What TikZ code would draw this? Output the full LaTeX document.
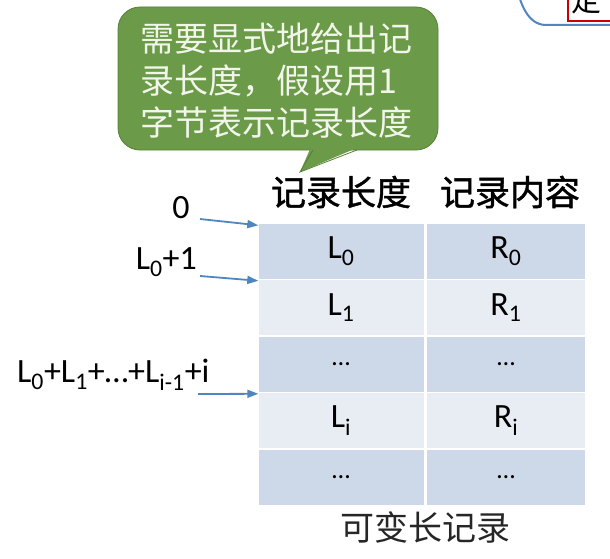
\documentclass[tikz,border=0pt]{standalone}
\usepackage{fontspec}
\setmainfont{Carlito}
\newfontfamily\zhfont{Noto Sans CJK SC}
\newfontfamily\zhhead[FakeBold=1.2]{Noto Sans CJK SC}
\usepackage{tikz}
\usetikzlibrary{arrows.meta,positioning}

\definecolor{rowdark}{HTML}{CDD8E8}
\definecolor{rowlight}{HTML}{E8EDF4}
\definecolor{tipgreen}{HTML}{6B9A48}
\definecolor{tipedge}{HTML}{55803A}
\definecolor{tiptext}{HTML}{F2F6EA}
\definecolor{ptrblue}{HTML}{4F86C0}

\newcommand{\celldots}{{\fontsize{26}{30}\selectfont\ldots}}

\begin{document}
\begin{tikzpicture}[
    x=1pt, y=-1pt,
    cell/.style={rectangle, minimum height=55pt, inner sep=0pt, text centered,
                 font=\fontsize{34}{38}\selectfont},
    head/.style={font=\zhhead\fontsize{35}{40}\selectfont, inner sep=0pt},
    addr/.style={font=\fontsize{34}{38}\selectfont, inner sep=0pt},
    ptr/.style={-{Triangle[length=11pt,width=8pt]}, ptrblue, line width=1.8pt}
]
\useasboundingbox (0,0) rectangle (610,559);

% table rows
\foreach \r/\len/\con/\col in {1/L\textsubscript{0}/R\textsubscript{0}/rowdark,
                              2/L\textsubscript{1}/R\textsubscript{1}/rowlight,
                              3/\celldots/\celldots/rowdark,
                              4/L\textsubscript{i}/R\textsubscript{i}/rowlight,
                              5/\celldots/\celldots/rowdark}{
    \node[cell, fill=\col, minimum width=165pt] (len\r) at (341,{223+56.5*(\r-1)+28}) {\len};
    \node[cell, fill=\col, minimum width=158pt] (con\r) at (506,{223+56.5*(\r-1)+28}) {\con};
}

% headers and caption
\node[head] (hlen) at (341,192) {记录长度};
\node[head] (hcon) at (510,192) {记录内容};
\node[font=\zhfont\fontsize{34}{38}\selectfont, inner sep=0pt, text=black!85] (cap) at (425,527) {可变长记录};

% addresses
\node[addr] (a0) at (181,208) {0};
\node[addr, anchor=east] (a1) at (197,262) {L\textsubscript{0}+1};
\node[addr, anchor=west] (ai) at (17,375) {L\textsubscript{0}+L\textsubscript{1}+\ldots+L\textsubscript{i-1}+i};

\coordinate (s0) at (200,219);
\coordinate (s1) at (200,276);
\coordinate (si) at (198,394);
\draw[ptr] (s0) -- ([yshift=-2pt]len1.north west);
\draw[ptr] (s1) -- ([yshift=-1pt]len2.north west);
\draw[ptr] (si) -- ([yshift=-1pt]len4.north west);

% callout
\draw[tipedge, line width=0.8pt, fill=tipgreen, rounded corners=22pt]
    (118,7) rectangle (438,150);
\fill[tipgreen] (311,147) -- (300,172) -- (359,147) -- cycle;
\draw[tipedge, line width=0.8pt] (313,150) -- (300,172) -- (357,150);
\node[anchor=north west, align=left, text=tiptext, inner sep=0pt,
      font=\zhfont\fontsize{34}{42}\selectfont] (note) at (140,23)
    {需要显式地给出记\\录长度，假设用1\\字节表示记录长度};

% cut-off piece at top right
\begin{scope}
\clip (500,0) rectangle (610,30);
\draw[ptrblue, line width=2pt, fill=white] (515,-20) .. controls (520,5) and (528,24) .. (545,25) -- (620,25);
\draw[red!80!black, line width=2pt, fill=white] (568,-10) rectangle (620,21);
\node[font=\zhfont\fontsize{30}{34}\selectfont, anchor=north west, inner sep=0pt] (frag) at (571,-14) {定};
\end{scope}
\end{tikzpicture}
\end{document}
